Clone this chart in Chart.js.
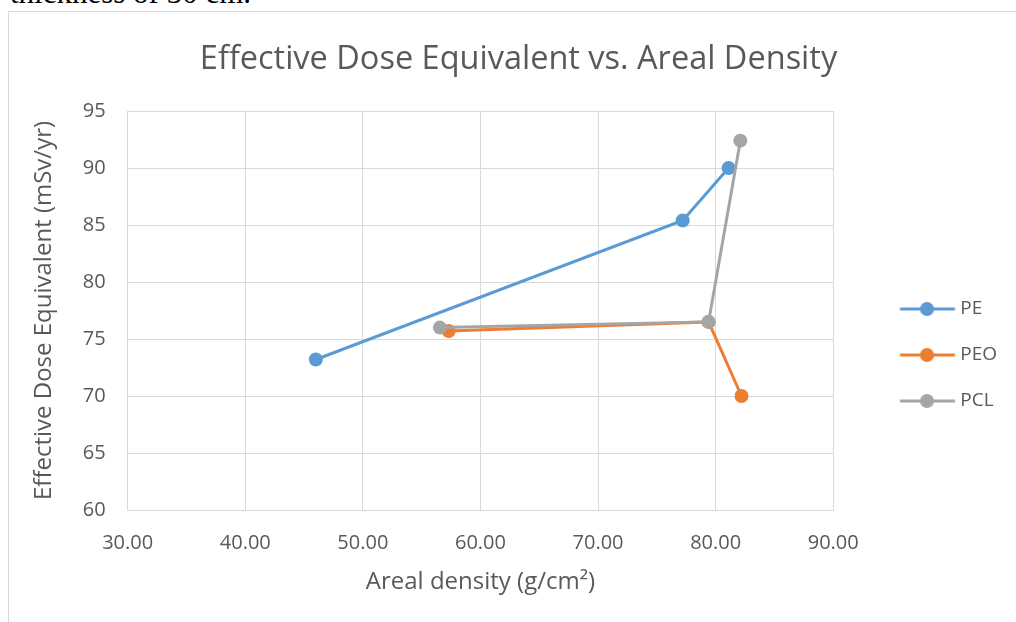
<!DOCTYPE html>
<html>
<head>
<meta charset="utf-8">
<script src="https://cdn.jsdelivr.net/npm/chart.js@4.4.0/dist/chart.umd.min.js"></script>
<style>
  html, body { margin: 0; padding: 0; background: #fff; width: 1016px; height: 622px; overflow: hidden; }
  #pagetext { position: absolute; left: 10px; top: -25px; font-family: "Liberation Serif", serif; font-size: 31px; color: #000; white-space: nowrap; }
  #frame { position: absolute; left: 8px; top: 11px; width: 1100px; height: 700px; border: 1px solid #d9d9d9; box-sizing: border-box; }
  #wrap { position: absolute; left: 9px; top: 12px; width: 1007px; height: 686px; }
</style>
</head>
<body>
<div id="pagetext">thickness of 30 cm.</div>
<div id="frame"></div>
<div id="wrap"><canvas id="c"></canvas></div>
<script>
// ---- data ----
const seriesNames = ["PE", "PEO", "PCL"];
const peX  = [46.0, 77.2, 81.1];
const peY  = [73.2, 85.4, 90.0];
const peoX = [57.3, 79.4, 82.2];
const peoY = [75.7, 76.5, 70.0];
const pclX = [56.55, 79.4, 82.1];
const pclY = [76.0, 76.5, 92.4];
const xTicks = [30, 40, 50, 60, 70, 80, 90];
const yTicks = [60, 65, 70, 75, 80, 85, 90, 95];
const colors = ["#5B9BD5", "#ED7D31", "#A5A5A5"];

const toPts = (xs, ys) => xs.map((x, i) => ({ x: x, y: ys[i] }));

function legendIcon(color) {
  const c = document.createElement('canvas');
  c.width = 104; c.height = 16;
  const g = c.getContext('2d');
  g.strokeStyle = color; g.lineWidth = 3;
  g.beginPath(); g.moveTo(46.5, 8); g.lineTo(101.5, 8); g.stroke();
  g.fillStyle = color;
  g.beginPath(); g.arc(73.5, 8, 7, 0, Math.PI * 2); g.fill();
  return c;
}
const icons = colors.map(legendIcon);

const FONT = "'Open Sans', 'Noto Sans', sans-serif";
const TXT = "#595959";

new Chart(document.getElementById('c'), {
  type: 'scatter',
  data: {
    datasets: [
      { label: seriesNames[0], data: toPts(peX, peY), order: 3 },
      { label: seriesNames[1], data: toPts(peoX, peoY), order: 2 },
      { label: seriesNames[2], data: toPts(pclX, pclY), order: 1 }
    ].map((d, i) => Object.assign(d, {
      showLine: true,
      borderColor: colors[i],
      backgroundColor: colors[i],
      borderWidth: 3,
      pointRadius: 7,
      pointHoverRadius: 7,
      pointBorderWidth: 0
    }))
  },
  options: {
    responsive: true,
    maintainAspectRatio: false,
    animation: false,
    layout: { padding: { left: 21, right: 9, top: 0, bottom: 0 } },
    plugins: {
      title: {
        display: true,
        text: 'Effective Dose Equivalent vs. Areal Density',
        color: TXT,
        font: { family: FONT, size: 32.5, weight: 'normal' },
        padding: { top: 28, bottom: 32 }
      },
      legend: {
        position: 'right',
        labels: {
          usePointStyle: true,
          pointStyleWidth: 90.5,
          padding: 27,
          color: TXT,
          font: { family: FONT, size: 19 },
          sort: (a, b) => a.datasetIndex - b.datasetIndex,
          generateLabels: (chart) => chart.data.datasets.map((d, i) => ({
            text: d.label,
            pointStyle: icons[i],
            fillStyle: colors[i],
            strokeStyle: colors[i],
            lineWidth: 0,
            hidden: false,
            datasetIndex: i,
            fontColor: TXT
          }))
        }
      },
      tooltip: { enabled: false }
    },
    scales: {
      x: {
        type: 'linear',
        min: 30, max: 90,
        afterBuildTicks: (s) => { s.ticks = xTicks.map(v => ({ value: v })); },
        ticks: { color: TXT, font: { family: FONT, size: 20 }, padding: 21, callback: v => Number(v).toFixed(2) },
        grid: { color: '#d9d9d9', lineWidth: 1, drawTicks: false },
        border: { color: '#d9d9d9' },
        title: { display: true, text: 'Areal density (g/cm²)', color: TXT, font: { family: FONT, size: 24 }, padding: { top: -8.4, bottom: 101.6 } }
      },
      y: {
        min: 60, max: 95,
        afterBuildTicks: (s) => { s.ticks = yTicks.map(v => ({ value: v })); },
        ticks: { color: TXT, font: { family: FONT, size: 20 }, padding: 22 },
        grid: { color: '#d9d9d9', lineWidth: 1, drawTicks: false },
        border: { color: '#d9d9d9' },
        title: { display: true, text: 'Effective Dose Equivalent (mSv/yr)', color: TXT, font: { family: FONT, size: 24 }, padding: { top: 0, bottom: 2 } }
      }
    }
  }
});
</script>
</body>
</html>
